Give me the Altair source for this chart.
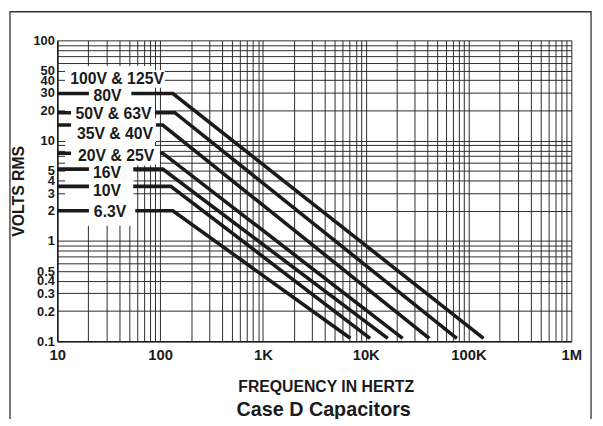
import altair as alt
import pandas as pd

# ---- series: one line per voltage rating (flat, knee, falling) ----
series_names = ["80V", "50V & 63V", "35V & 40V", "20V & 25V", "16V", "10V", "6.3V"]
start_freq = [10, 10, 10, 10, 10, 10, 10]
level_volts = [29.5, 19.0, 14.3, 7.5, 5.2, 3.5, 2.0]
knee_freq = [133, 139, 106, 106, 106, 127, 133]
end_freq = [140000, 77000, 41500, 22870, 16400, 11020, 7080]
end_volts = [0.107, 0.107, 0.107, 0.107, 0.107, 0.107, 0.107]

# ---- in-chart labels ----
label_text = ["100V & 125V", "80V", "50V & 63V", "35V & 40V", "20V & 25V", "16V", "10V", "6.3V"]
label_freq = [38.1, 30.8, 35.2, 36.4, 37.3, 30.5, 30.5, 32.6]
label_volts = [41.4, 28.1, 18.4, 11.7, 7.07, 4.74, 3.15, 1.96]
box_f1 = [11.9, 20.3, 13.6, 13.6, 13.6, 20.3, 20.3, 20.3]
box_f2 = [111, 52.5, 89.1, 91.1, 99.6, 54.8, 54.8, 57.3]
box_v1 = [33.7, 23.5, 15.3, 9.71, 5.77, 3.93, 2.61, 1.62]
box_v2 = [50.7, 35.3, 23.0, 16.7, 8.87, 6.03, 4.02, 2.44]

# blank area behind the labels (hides the grid)
mask_f1 = [11.9, 54.8]
mask_f2 = [54.8, 89.1]
mask_v1 = [1.42, 5.64]
mask_v2 = [55.5, 55.5]

# ---- axes / titles ----
x_label_values = [10, 100, 1000, 10000, 100000, 1000000]
x_label_text = ["10", "100", "1K", "10K", "100K", "1M"]
y_label_values = [100, 50, 40, 30, 20, 10, 5, 4, 3, 2, 1, 0.5, 0.4, 0.3, 0.2, 0.1]
multipliers = [1, 2, 3, 4, 5, 6, 7, 8, 9]
x_grid = [m * 10 ** k for k in range(1, 6) for m in multipliers] + [1000000]
y_grid = [round(m * 10.0 ** k, 6) for k in range(-1, 2) for m in multipliers] + [100]
chart_title = ["Case D Capacitors"]

rows = []
for i, name in enumerate(series_names):
    pts = [(start_freq[i], level_volts[i]), (knee_freq[i], level_volts[i]), (end_freq[i], end_volts[i])]
    for j, (f, v) in enumerate(pts):
        rows.append({"series": name, "f": f, "v": v, "o": j})
lines_df = pd.DataFrame(rows)
labels_df = pd.DataFrame({"text": label_text, "f": label_freq, "v": label_volts,
                          "f1": box_f1, "f2": box_f2, "v1": box_v1, "v2": box_v2})
mask_df = pd.DataFrame({"f1": mask_f1, "f2": mask_f2, "v1": mask_v1, "v2": mask_v2})
frame_df = pd.DataFrame({"k": [0]})
title_df = pd.DataFrame({"t": chart_title})

FONT = "Liberation Sans"
INK = "#1a1a1a"
GRID = "#2b2b2b"

xs = alt.Scale(type="log", domain=[10, 1000000], nice=False)
ys = alt.Scale(type="log", domain=[0.1, 100], nice=False)

expr = "''"
for val, txt in zip(reversed(x_label_values), reversed(x_label_text)):
    expr = f"datum.value == {val} ? '{txt}' : ({expr})"
x_axis = alt.Axis(values=x_grid, labelExpr=expr, grid=True, gridColor=GRID, gridWidth=1,
                  ticks=False, domainColor=INK, domainWidth=1.5,
                  labelFont=FONT, labelFontSize=15, labelFontWeight="bold", labelColor=INK,
                  labelPadding=6, labelOverlap=False, labelFlush=False,
                  title="FREQUENCY IN HERTZ", titleFont=FONT, titleFontSize=16,
                  titleFontWeight="bold", titleColor=INK, titlePadding=17,
                  titleX=272, titleAlign="center")
y_list = "[" + ",".join(str(v) for v in y_label_values) + "]"
y_axis = alt.Axis(values=y_grid, labelExpr=f"indexof({y_list}, datum.value) >= 0 ? datum.label : ''",
                  format="~g", grid=True, gridColor=GRID, gridWidth=1,
                  ticks=False, domainColor=INK, domainWidth=1.5,
                  labelFont=FONT, labelFontSize=13, labelFontWeight="bold", labelColor=INK,
                  labelPadding=3, labelOverlap=False, labelFlush=False,
                  title="VOLTS RMS", titleFont=FONT, titleFontSize=16,
                  titleFontWeight="bold", titleColor=INK, titlePadding=7)


def X(field):
    return alt.X(field, type="quantitative", scale=xs, axis=x_axis)


def Y(field):
    return alt.Y(field, type="quantitative", scale=ys, axis=y_axis)


mask = alt.Chart(mask_df).mark_rect(color="white").encode(
    x=X("f1"), x2="f2", y=Y("v1"), y2="v2")

lines = alt.Chart(lines_df).mark_line(color=INK, strokeWidth=3.6).encode(
    x=X("f"), y=Y("v"), detail="series:N", order="o:Q")

boxes = alt.Chart(labels_df).mark_rect(color="white").encode(
    x=X("f1"), x2="f2", y=Y("v1"), y2="v2")

texts = alt.Chart(labels_df).mark_text(font=FONT, fontSize=16, fontWeight="bold",
                                       color=INK, align="center", baseline="middle").encode(
    x=X("f"), y=Y("v"), text="text:N")

title_mark = alt.Chart(title_df).mark_text(font=FONT, fontSize=20, fontWeight="bold",
                                           color=INK, align="center", baseline="middle").encode(
    x=alt.value(270), y=alt.value(375), text="t:N")

frame = alt.Chart(frame_df).mark_rect(fillOpacity=0, stroke="#333333", strokeWidth=1.3).encode(
    x=alt.value(-48), x2=alt.value(541), y=alt.value(-29), y2=alt.value(420))

chart = alt.layer(mask, lines, boxes, texts, title_mark, frame).properties(
    width=521, height=305,
    padding={"left": 50, "top": 30, "right": 24, "bottom": 76},
    autosize=alt.AutoSizeParams(type="none"),
    background="white",
).configure_view(stroke=None)

chart.save("out.html", embed_options={"renderer": "svg", "actions": False})
